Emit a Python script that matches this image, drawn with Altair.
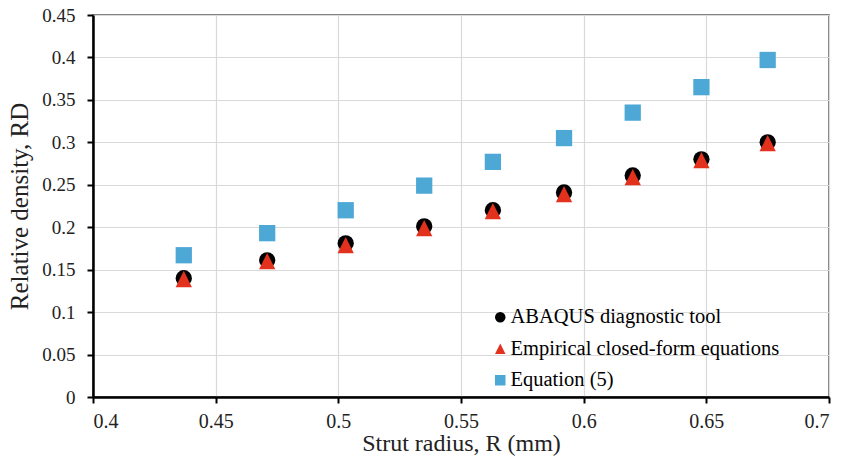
import altair as alt
import pandas as pd

radius = [0.437, 0.471, 0.503, 0.535, 0.563, 0.592, 0.620, 0.648, 0.675]
abaqus = [0.140, 0.161, 0.181, 0.201, 0.220, 0.241, 0.261, 0.280, 0.300]
empirical = [0.139, 0.160, 0.179, 0.199, 0.219, 0.239, 0.259, 0.279, 0.299]
equation5 = [0.167, 0.193, 0.220, 0.249, 0.277, 0.305, 0.335, 0.365, 0.397]

series_names = ["ABAQUS diagnostic tool", "Empirical closed-form equations", "Equation (5)"]
series_colors = ["#000000", "#E2311D", "#4EA8D6"]
series_shapes = ["circle", "M0,-1L1,1L-1,1Z", "square"]

x_ticks = [0.4, 0.45, 0.5, 0.55, 0.6, 0.65, 0.7]
y_ticks = [0, 0.05, 0.1, 0.15, 0.2, 0.25, 0.3, 0.35, 0.4, 0.45]

rows = []
for name, vals in zip(series_names, [abaqus, empirical, equation5]):
    for r, v in zip(radius, vals):
        rows.append({"R": r, "RD": v, "series": name})
df = pd.DataFrame(rows)

FONT = "Liberation Serif"

leg = dict(title=None, orient="none", legendX=397, legendY=292,
           labelFont=FONT, labelFontSize=20.5, labelColor="#000000", labelLimit=400)

chart = alt.Chart(df).mark_point(filled=True, opacity=1, strokeWidth=0, size=265).encode(
    x=alt.X("R:Q", scale=alt.Scale(domain=[0.4, 0.7], nice=False, zero=False),
            axis=alt.Axis(values=x_ticks, format="~g", title="Strut radius, R (mm)",
                          titlePadding=0, labelPadding=8, labelFontSize=20,
                          titleFontSize=24)),
    y=alt.Y("RD:Q", scale=alt.Scale(domain=[0, 0.45], nice=False),
            axis=alt.Axis(values=y_ticks, format="~g", title="Relative density, RD",
                          titlePadding=9, labelPadding=12, labelFontSize=19,
                          titleFontSize=25)),
    color=alt.Color("series:N", scale=alt.Scale(domain=series_names, range=series_colors),
                    legend=alt.Legend(**leg)),
    shape=alt.Shape("series:N", scale=alt.Scale(domain=series_names, range=series_shapes),
                    legend=alt.Legend(**leg)),
).properties(
    width=736, height=382,
    background="white",
    autosize=alt.AutoSizeParams(type="none"),
    padding={"left": 93, "top": 15, "right": 12, "bottom": 70},
).configure(
    font=FONT
).configure_view(
    stroke="#595959", strokeWidth=1.5
).configure_axis(
    domainColor="#000000", domainWidth=2.5,
    tickColor="#000000", tickWidth=2, tickSize=6,
    gridColor="#D9D9D9", gridWidth=1.2,
    labelFont=FONT, labelColor="#222222",
    titleFont=FONT, titleFontWeight="normal", titleColor="#222222",
).configure_legend(
    labelFont=FONT, labelFontSize=20.5, labelColor="#000000", labelLimit=400,
    symbolSize=110, rowPadding=10.5, labelOffset=0, symbolStrokeWidth=0,
)

chart.save("out.html", embed_options={"renderer": "svg", "actions": False})
